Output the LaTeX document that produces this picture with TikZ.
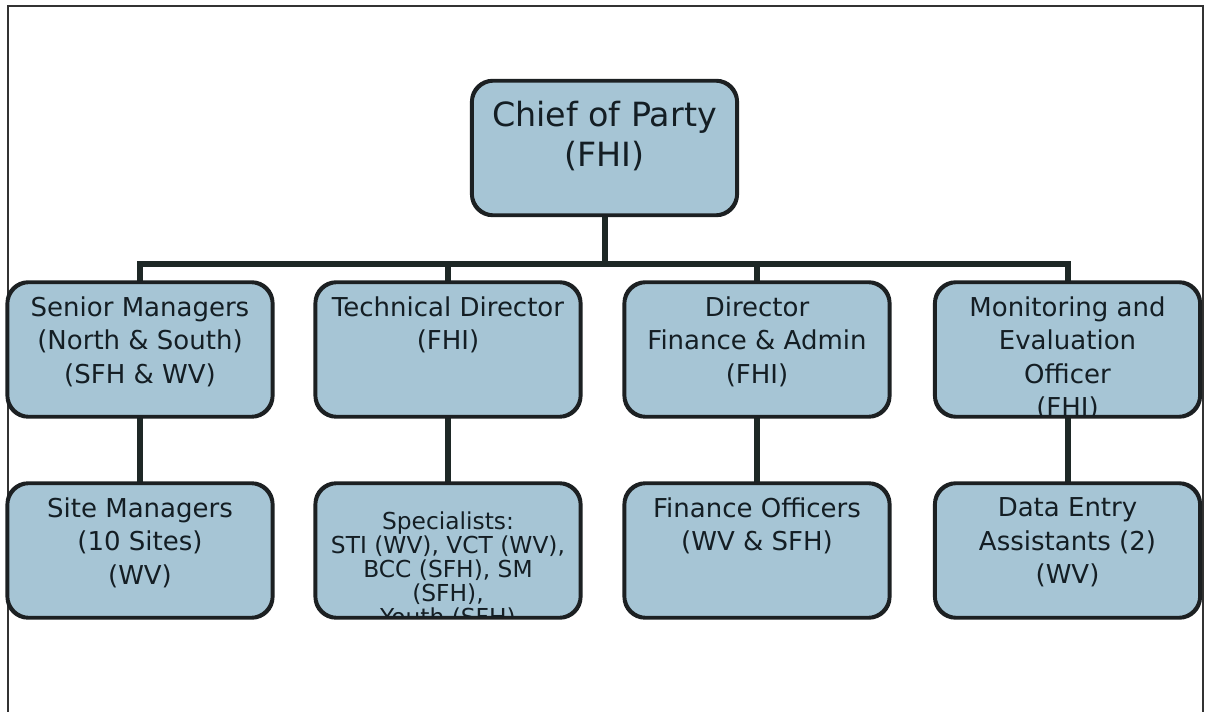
\documentclass[tikz,border=0pt]{standalone}
\usepackage{fontspec}
\setmainfont{DejaVu Sans}
\definecolor{boxfill}{RGB}{166,197,213}
\definecolor{boxline}{RGB}{28,32,34}
\definecolor{linkc}{RGB}{30,40,38}
\definecolor{txtc}{RGB}{20,30,36}
\definecolor{framec}{RGB}{50,50,50}
\tikzset{
  orgbox/.style={draw=boxline, line width=1.9pt, fill=boxfill, rounded corners=16pt,
    minimum width=198pt, minimum height=100pt, inner sep=0pt},
  orgtxt/.style={anchor=north, align=center, inner sep=0pt, text=txtc,
    font=\fontsize{19.5}{25}\selectfont},
  bigtxt/.style={orgtxt, font=\fontsize{25}{30}\selectfont},
  smalltxt/.style={orgtxt, font=\fontsize{17.5}{18}\selectfont},
  orglink/.style={draw=linkc, line width=4.5pt},
  framel/.style={draw=framec, line width=1.1pt},
  boxedge/.style={draw=boxline, line width=1.9pt, rounded corners=16pt}
}
\begin{document}
\begin{tikzpicture}[x=0.75pt, y=-0.75pt]
\useasboundingbox (0,0) rectangle (1206,712);
% frame
\coordinate (fbl) at (8,716);
\coordinate (ftl) at (8,6);
\coordinate (ftr) at (1203,6);
\coordinate (fbr) at (1203,716);
\draw[framel] (fbl) -- (ftl) -- (ftr) -- (fbr);

% boxes
\node[orgbox] (chief) at (604.5,148) {};
\node[orgbox] (sm) at (140,349.5) {};
\node[orgbox] (td) at (448,349.5) {};
\node[orgbox] (df) at (757,349.5) {};
\node[orgbox] (me) at (1067.5,349.5) {};
\node[orgbox] (site) at (140,550.5) {};
\node[orgbox] (spec) at (448,550.5) {};
\node[orgbox] (fo) at (757,550.5) {};
\node[orgbox] (de) at (1067.5,550.5) {};

% connectors
\coordinate (bar) at (0,264);
\draw[orglink] (chief.south) -- (chief.south |- bar);
\draw[orglink] ([xshift=-2.25pt]sm.north |- bar) -- ([xshift=2.25pt]me.north |- bar);
\draw[orglink] (sm.north |- bar) -- (sm.north);
\draw[orglink] (td.north |- bar) -- (td.north);
\draw[orglink] (df.north |- bar) -- (df.north);
\draw[orglink] (me.north |- bar) -- (me.north);
\draw[orglink] (sm.south) -- (site.north);
\draw[orglink] (td.south) -- (spec.north);
\draw[orglink] (df.south) -- (fo.north);
\draw[orglink] (me.south) -- (de.north);

% texts
\node[bigtxt] (tchief) at ([yshift=-16pt]chief.north) {Chief of Party\\(FHI)};
\node[orgtxt] (tsm) at ([yshift=-11.25pt]sm.north) {Senior Managers\\(North \& South)\\(SFH \& WV)};
\node[orgtxt] (ttd) at ([yshift=-11.25pt]td.north) {Technical Director\\(FHI)};
\node[orgtxt] (tdf) at ([yshift=-11.25pt]df.north) {Director\\Finance \& Admin\\(FHI)};
\begin{scope}
\clip[rounded corners=16pt] (me.south west) rectangle (me.north east);
\node[orgtxt] (tme) at ([yshift=-11.25pt]me.north) {Monitoring and\\Evaluation\\Officer\\(FHI)};
\end{scope}
\node[orgtxt] (tsite) at ([yshift=-11.25pt]site.north) {Site Managers\\(10 Sites)\\(WV)};
\begin{scope}
\clip[rounded corners=16pt] (spec.south west) rectangle (spec.north east);
\node[smalltxt] (tspec) at ([yshift=-21.5pt]spec.north) {Specialists:\\STI (WV), VCT (WV),\\BCC (SFH), SM\\(SFH),\\Youth (SFH)};
\end{scope}
\node[orgtxt] (tfo) at ([yshift=-11.25pt]fo.north) {Finance Officers\\(WV \& SFH)};
\node[orgtxt] (tde) at ([yshift=-11.25pt]de.north) {Data Entry\\Assistants (2)\\(WV)};

% box outlines drawn last, over connector ends and clipped text
\draw[boxedge] (chief.south west) rectangle (chief.north east);
\draw[boxedge] (sm.south west) rectangle (sm.north east);
\draw[boxedge] (td.south west) rectangle (td.north east);
\draw[boxedge] (df.south west) rectangle (df.north east);
\draw[boxedge] (me.south west) rectangle (me.north east);
\draw[boxedge] (site.south west) rectangle (site.north east);
\draw[boxedge] (spec.south west) rectangle (spec.north east);
\draw[boxedge] (fo.south west) rectangle (fo.north east);
\draw[boxedge] (de.south west) rectangle (de.north east);
\end{tikzpicture}
\end{document}
